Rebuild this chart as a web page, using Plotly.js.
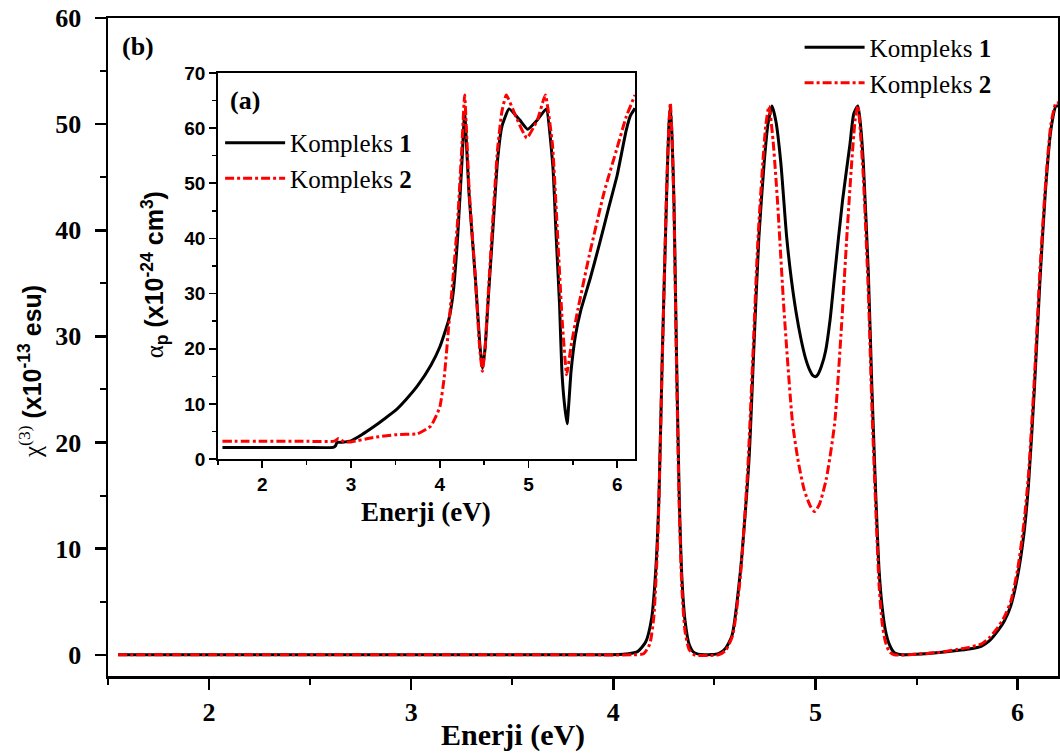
<!DOCTYPE html>
<html>
<head>
<meta charset="utf-8">
<script src="https://cdn.plot.ly/plotly-3.0.1.min.js"></script>
<style>html,body{margin:0;padding:0;background:#fff;}</style>
</head>
<body>
<div id="chart" style="width:1060px;height:754px;"></div>
<script>
// ---- Main chart (b): chi(3) ----
const chiE1 = [1.55,2.0,3.0,3.8,4.05,4.12,4.16,4.19,4.21,4.226,4.242,4.263,4.274,4.282,4.29,4.30,4.312,4.326,4.34,4.355,4.375,4.40,4.45,4.52,4.555,4.587,4.629,4.671,4.695,4.72,4.746,4.765,4.785,4.805,4.829,4.857,4.88,4.904,4.928,4.95,4.97,4.988,5.0,5.012,5.03,5.05,5.072,5.095,5.134,5.17,5.19,5.21,5.225,5.237,5.262,5.279,5.299,5.315,5.33,5.345,5.365,5.39,5.43,5.5,5.6,5.7,5.76,5.82,5.86,5.9,5.935,5.966,6.0,6.032,6.054,6.083,6.11,6.137,6.165,6.19,6.2];
const chi1  = [0,0,0,0,0.05,0.3,1.2,3.5,8,15,28,42.8,49.5,51.7,49,42.8,29,15,7,3.2,1.0,0.2,0,0.1,0.6,1.8,7.9,18.3,28.8,39.3,46.3,50,51.7,50.2,46.3,39.5,35.5,32.3,29.8,28,26.9,26.3,26.2,26.4,27.2,28.6,31.5,35.8,42.8,48,51,51.7,49.5,46.3,35.8,25.3,14.8,7.9,4.5,2.4,1.0,0.2,0,0.05,0.2,0.4,0.55,0.8,1.3,2.2,3.2,4.6,7.4,11.5,16,25,35,43.5,49.5,51.7,51.7];
const chiE2 = [1.55,2.0,3.0,3.8,4.10,4.15,4.18,4.20,4.22,4.24,4.262,4.274,4.282,4.29,4.30,4.312,4.326,4.34,4.355,4.375,4.40,4.52,4.555,4.59,4.629,4.665,4.69,4.715,4.74,4.755,4.77,4.79,4.812,4.845,4.887,4.915,4.945,4.975,4.996,5.02,5.054,5.095,5.129,5.154,5.179,5.197,5.21,5.225,5.237,5.262,5.279,5.299,5.315,5.33,5.345,5.365,5.39,5.5,5.6,5.7,5.76,5.82,5.86,5.9,5.935,5.966,6.0,6.032,6.054,6.083,6.11,6.137,6.165,6.19,6.2];
const chi2  = [0,0,0,0,0,0.1,1.0,3.5,11,26,42.8,49.5,52,49,42,28,14,6,2.2,0.5,0,0,0.4,1.8,7.5,17.5,28,39,46.5,50,51.7,48.5,42.8,32.3,21.8,18.2,15.5,14,13.5,14.2,16.6,21.8,31,39,46.3,50.5,51.7,48.5,45,34,23.5,13.5,6.5,3,1.3,0.3,0,0.05,0.2,0.5,0.7,1.0,1.6,2.5,3.6,5,8,12.5,17,26,36,44,50,52,52];

// ---- Inset chart (a): alpha_p ----
const alpE1 = [1.55,2.0,2.5,2.80,2.825,2.84,2.9,3.0,3.12,3.25,3.37,3.5,3.62,3.75,3.9,4.0,4.1,4.15,4.2,4.25,4.28,4.33,4.4,4.45,4.48,4.51,4.55,4.6,4.65,4.7,4.78,4.9,4.99,5.1,5.2,5.275,5.312,5.35,5.376,5.405,5.435,5.48,5.53,5.59,5.7,5.8,5.9,6.0,6.1,6.15,6.2];
const alp1  = [2.1,2.1,2.1,2.1,2.4,3.0,3.05,3.3,4.4,5.8,7.2,8.8,10.8,13.3,17,20.3,25.2,30,40,54,62.7,48,33,21,16.4,20,30,42,54,60.3,63.5,61.5,59.8,61.5,63.5,53,40.3,28,16,10,6.4,16,22.5,27,33,39,45.3,51.5,59.5,62.3,63.6];
const alpE2 = [1.55,2.0,2.5,2.80,2.83,2.86,2.92,3.0,3.25,3.5,3.75,3.9,4.0,4.05,4.1,4.15,4.2,4.25,4.28,4.33,4.4,4.45,4.48,4.51,4.55,4.6,4.65,4.7,4.75,4.86,4.98,5.1,5.19,5.27,5.33,5.38,5.43,5.48,5.555,5.686,5.854,6.0,6.1,6.2];
const alp2  = [3.2,3.2,3.2,3.2,3.4,3.7,3.1,3.1,3.9,4.4,4.6,6.0,9.4,14.8,24,33,43,57,66,49,33,20,15.9,20,31,44,56,63,66,62,58.2,61.5,66,57,40,25,15.3,20.5,27,37,48.5,56.5,62,66];

const seriesNames = ['Kompleks <b>1</b>','Kompleks <b>2</b>'];

const serif = 'Liberation Serif, Times New Roman, serif';
const sans = 'Liberation Sans, Arial, sans-serif';

const traces = [
  {x: chiE1, y: chi1, name: seriesNames[0], mode:'lines', line:{color:'#000000', width:3, shape:'spline', smoothing:0.6}, legend:'legend'},
  {x: chiE2, y: chi2, name: seriesNames[1], mode:'lines', line:{color:'#ff0000', width:3, dash:'dashdot', shape:'spline', smoothing:0.6}, legend:'legend'},
  {x: alpE1, y: alp1, name: seriesNames[0], mode:'lines', xaxis:'x2', yaxis:'y2', line:{color:'#000000', width:3, shape:'spline', smoothing:0.4}, legend:'legend2'},
  {x: alpE2, y: alp2, name: seriesNames[1], mode:'lines', xaxis:'x2', yaxis:'y2', line:{color:'#ff0000', width:3, dash:'dashdot', shape:'spline', smoothing:0.4}, legend:'legend2'}
];

const layout = {
  width:1060, height:754,
  margin:{l:108, r:2, t:18, b:78},
  paper_bgcolor:'#ffffff', plot_bgcolor:'#ffffff',
  showlegend:true,
  xaxis:{range:[1.5,6.2], showgrid:false, zeroline:false, showline:true, linecolor:'#000', linewidth:2.5, mirror:true,
    ticks:'outside', ticklen:11, tickwidth:2.5, tickcolor:'#000', dtick:1, tick0:0,
    minor:{dtick:0.5, tick0:0, ticks:'outside', ticklen:6, tickwidth:2, tickcolor:'#000', showgrid:false},
    tickfont:{family:serif, size:26, color:'#000', weight:'bold'}},
  yaxis:{range:[-2,60], showgrid:false, zeroline:false, showline:true, linecolor:'#000', linewidth:2.5, mirror:true,
    ticks:'outside', ticklen:11, tickwidth:2.5, tickcolor:'#000', dtick:10, tick0:0, ticklabelstandoff:8,
    minor:{dtick:5, tick0:0, ticks:'outside', ticklen:6, tickwidth:2, tickcolor:'#000', showgrid:false},
    tickfont:{family:serif, size:26, color:'#000', weight:'bold'}},
  xaxis2:{domain:[0.1158,0.5547], anchor:'y2', range:[1.5,6.2], showgrid:false, zeroline:false, showline:true, linecolor:'#000', linewidth:1.8, mirror:true,
    ticks:'outside', ticklen:7, tickwidth:1.8, tickcolor:'#000', dtick:1, tick0:0,
    minor:{dtick:0.5, tick0:0, ticks:'outside', ticklen:4, tickwidth:1.5, tickcolor:'#000', showgrid:false},
    tickfont:{family:sans, size:19, color:'#000', weight:'bold'}},
  yaxis2:{domain:[0.3298,0.9164], anchor:'x2', range:[0,70], showgrid:false, zeroline:false, showline:true, linecolor:'#000', linewidth:1.8, mirror:true,
    ticks:'outside', ticklen:7, tickwidth:1.8, tickcolor:'#000', dtick:10, tick0:0,
    minor:{dtick:5, tick0:0, ticks:'outside', ticklen:4, tickwidth:1.5, tickcolor:'#000', showgrid:false},
    tickfont:{family:sans, size:19, color:'#000', weight:'bold'}},
  legend:{x:0.728, y:0.99, xanchor:'left', yanchor:'top', bgcolor:'rgba(0,0,0,0)', itemwidth:60,
    font:{family:serif, size:25, color:'#000'}, tracegroupgap:0},
  legend2:{x:0.118, y:0.845, xanchor:'left', yanchor:'top', bgcolor:'rgba(0,0,0,0)', itemwidth:60,
    font:{family:serif, size:25, color:'#000'}, tracegroupgap:0},
  annotations:[
    {xref:'paper', yref:'paper', x:0.0126, y:0.957, xanchor:'left', yanchor:'middle', showarrow:false,
      text:'(b)', font:{family:serif, size:26, color:'#000', weight:'bold'}},
    {xref:'paper', yref:'paper', x:0.1263, y:0.875, xanchor:'left', yanchor:'middle', showarrow:false,
      text:'(a)', font:{family:serif, size:26, color:'#000', weight:'bold'}},
    {xref:'paper', yref:'paper', x:0.426, y:-0.0897, xanchor:'center', yanchor:'middle', showarrow:false,
      text:'Enerji (eV)', font:{family:serif, size:30, color:'#000', weight:'bold'}},
    {xref:'paper', yref:'paper', x:0.3347, y:0.249, xanchor:'center', yanchor:'middle', showarrow:false,
      text:'Enerji (eV)', font:{family:serif, size:27, color:'#000', weight:'bold'}},
    {xref:'paper', yref:'paper', x:-0.0821, y:0.462, xanchor:'center', yanchor:'middle', showarrow:false, textangle:-90,
      text:'<span style="font-family:Liberation Serif;font-weight:normal">χ<sup>(3)</sup></span> (x10<sup>-13</sup> esu)',
      font:{family:sans, size:25, color:'#000', weight:'bold'}},
    {xref:'paper', yref:'paper', x:0.0495, y:0.609, xanchor:'center', yanchor:'middle', showarrow:false, textangle:-90,
      text:'<span style="font-family:Liberation Serif;font-weight:normal">α</span><sub>p</sub> (x10<sup>-24</sup> cm<sup>3</sup>)',
      font:{family:sans, size:25, color:'#000', weight:'bold'}}
  ]
};

Plotly.newPlot('chart', traces, layout, {displayModeBar:false, staticPlot:true});
</script>
</body>
</html>
